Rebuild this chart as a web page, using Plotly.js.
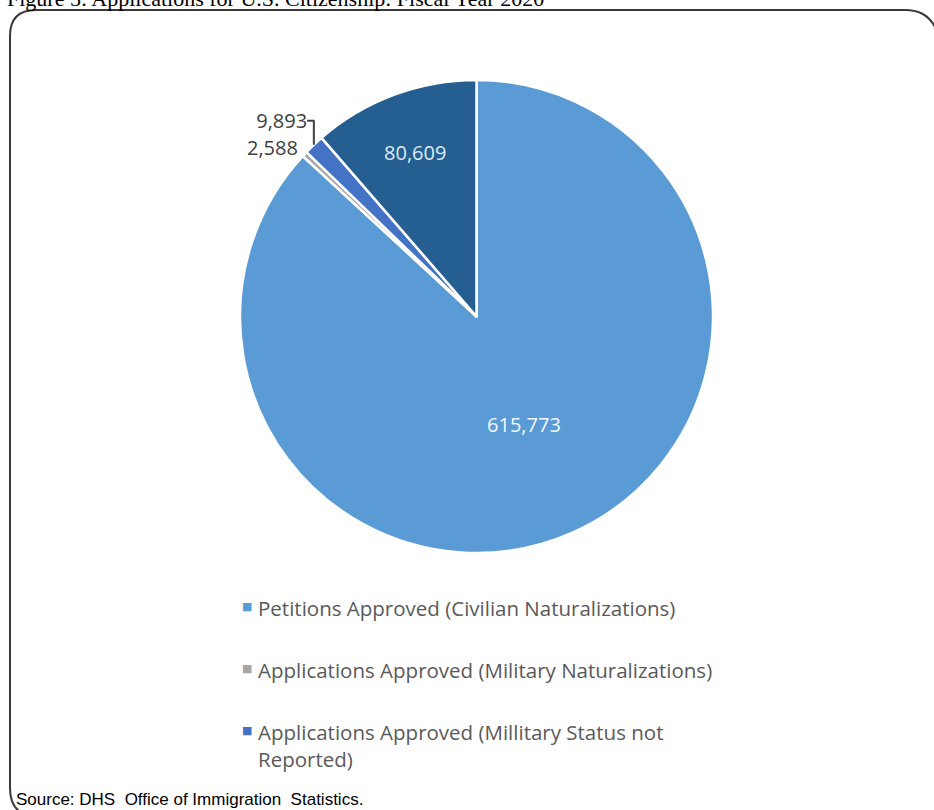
<!DOCTYPE html>
<html>
<head>
<meta charset="utf-8">
<script src="https://cdn.plot.ly/plotly-3.0.1.min.js"></script>
<style>html,body{margin:0;padding:0;background:#fff;}#chart{width:934px;height:810px;}</style>
</head>
<body>
<div id="chart"></div>
<script>
// ---- data ----
const labels = [
  "Petitions Approved (Civilian Naturalizations)",
  "Applications Approved (Military Naturalizations)",
  "Applications Approved (Millitary Status not Reported)",
  "Petitions Denied"
];
const values = [615773, 2588, 9893, 80609];
const colors = ["#5B9BD5", "#A5A5A5", "#4472C4", "#255E91"];
const textColors = ["#F2F7FC", "#404040", "#404040", "#DDEBF7"];
const textPositions = ["inside", "outside", "outside", "inside"];
const legendText = [
  "Petitions Approved (Civilian Naturalizations)",
  "Applications Approved (Military Naturalizations)",
  "Applications Approved (Millitary Status not<br>Reported)"
];
const titleText = "Figure 5: Applications for U.S. Citizenship: Fiscal Year 2020";
const sourceText = "Source: DHS&nbsp; Office of Immigration&nbsp; Statistics.";

// ---- helpers: pixel -> paper ----
const W = 934, H = 810;
const px = x => x / W;
const py = y => 1 - y / H;

const trace = {
  type: "pie",
  labels: labels,
  values: values,
  sort: false,
  direction: "clockwise",
  rotation: 0,
  marker: { colors: colors, line: { color: "#ffffff", width: 2.5 } },
  textinfo: "value",
  texttemplate: "%{value:,}",
  textposition: textPositions,
  textfont: { family: "Open Sans, sans-serif", size: 20, color: textColors },
  insidetextorientation: "horizontal",
  outsidetextfont: { family: "Open Sans, sans-serif", size: 20, color: "#404040" },
  showlegend: false,
  hoverinfo: "label+value",
  domain: { x: [px(240), px(713)], y: [py(553), py(80)] }
};

const annotations = [];
// title (cut off at top, as in reference)
annotations.push({
  text: titleText, xref: "paper", yref: "paper",
  x: px(5), y: py(-1), xanchor: "left", yanchor: "middle", showarrow: false,
  font: { family: "Liberation Serif, Times New Roman, serif", size: 22, color: "#000" }
});
// legend built from data
const legendY = [606, 668, 730];
legendText.forEach((t, i) => {
  annotations.push({
    text: "■", xref: "paper", yref: "paper", x: px(247), y: py(legendY[i]),
    xanchor: "center", yanchor: "middle", showarrow: false,
    font: { family: "DejaVu Sans, sans-serif", size: 11, color: colors[i] }
  });
  annotations.push({
    text: t, xref: "paper", yref: "paper", x: px(256), y: py(legendY[i]),
    xanchor: "left", yanchor: "top", yshift: 14, showarrow: false, align: "left",
    font: { family: "Open Sans, sans-serif", size: 20.5, color: "#595959" }
  });
});
// source line
annotations.push({
  text: sourceText, xref: "paper", yref: "paper",
  x: px(14), y: py(799), xanchor: "left", yanchor: "middle", showarrow: false,
  font: { family: "Liberation Sans, Arial, sans-serif", size: 17, color: "#000" }
});

function P(x, y) { return px(x) + "," + py(y); }
const framePath = "M" + P(940, 50) + " Q" + P(938, 10) + " " + P(905, 10) +
  " L" + P(36, 10) + " Q" + P(10, 10) + " " + P(10, 36) +
  " L" + P(10, 788) + " Q" + P(10, 808) + " " + P(24, 814);

const layout = {
  width: W, height: H,
  margin: { l: 0, r: 0, t: 0, b: 0 },
  paper_bgcolor: "#ffffff",
  showlegend: false,
  annotations: annotations,
  shapes: [{ type: "path", xref: "paper", yref: "paper", path: framePath,
    line: { color: "#3a3a3a", width: 2 }, layer: "below" }]
};

Plotly.newPlot("chart", [trace], layout, { displayModeBar: false, staticPlot: true });
</script>
</body>
</html>
